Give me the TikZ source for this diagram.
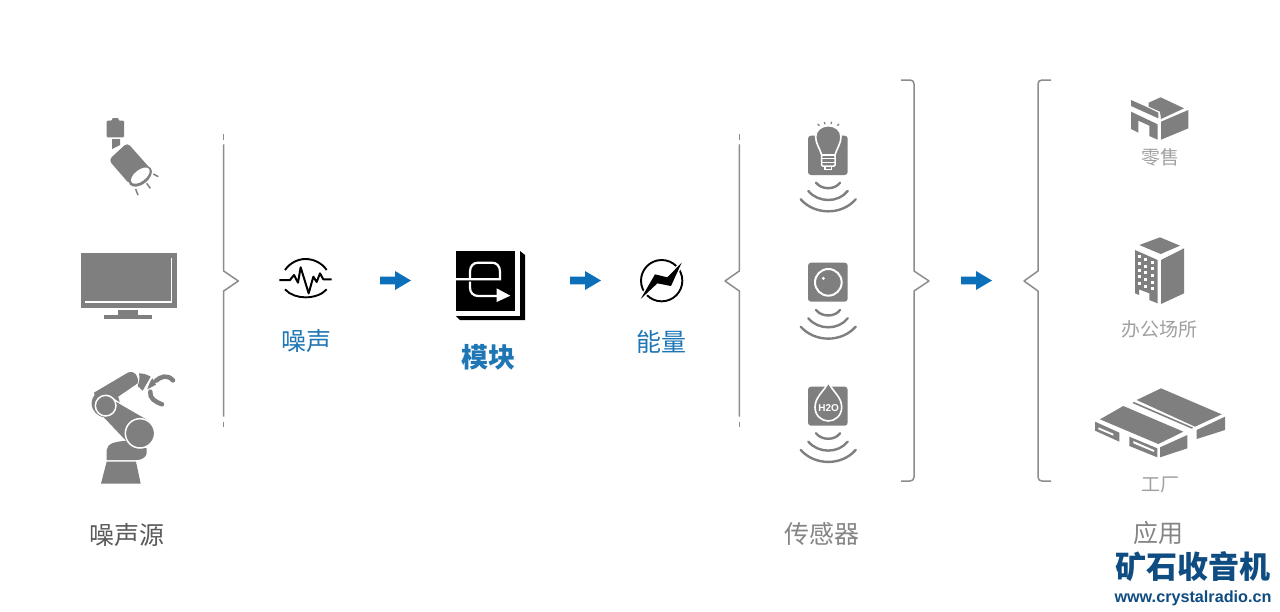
\documentclass[tikz,border=0pt]{standalone}
\usepackage{fontspec}
\setmainfont{Noto Sans CJK SC}
\newfontfamily\latinbold{Liberation Sans}
\definecolor{icongray}{HTML}{7F7F7F}
\definecolor{bracegray}{HTML}{8C8C8C}
\definecolor{flowblue}{HTML}{0B70B9}
\definecolor{labelblue}{HTML}{1F76B5}
\definecolor{markblue}{HTML}{0F4C81}
\definecolor{darklabel}{HTML}{5A5A5A}
\definecolor{midlabel}{HTML}{858585}
\definecolor{lightlabel}{HTML}{A0A0A0}
\tikzset{
  zoomed/.style={shift={(#1)},x=.33333pt,y=-.33333pt},
  icon/.style={fill=icongray,draw=none},
  wave/.style={draw=icongray,line width=2.4pt,line cap=round},
  bracket/.style={draw=bracegray,line width=1.5pt,line join=round},
  flowarrow/.style={fill=flowblue,draw=none},
  lbl/.style={inner sep=0pt,anchor=center},
  sizeA/.style={font=\fontsize{25}{25}\selectfont},
  sizeB/.style={font=\fontsize{19}{19}\selectfont}
}
\newcommand{\flowarr}[1]{%
  \fill[flowarrow,shift={(#1,280.5)}] (0,-3.8)--(15,-3.8)--(15,-9.5)--(31,0)--(15,9.5)--(15,3.8)--(0,3.8)--cycle;}
\newcommand{\waves}[1]{%
  \begin{scope}[zoomed={780,#1}]
    \draw[wave] (108,218) .. controls (125,240) and (165,240) .. (180,218);
    \draw[wave] (85,243) .. controls (115,279) and (175,279) .. (203,243);
    \draw[wave] (62,268) .. controls (105,316) and (185,316) .. (227,268);
  \end{scope}}
\begin{document}
\begin{tikzpicture}[x=1pt,y=-1pt]
\useasboundingbox (0,0) rectangle (1280,611);
\fill[white] (0,0) rectangle (1280,611);

% lamp
\begin{scope}[zoomed={70,100}]
  \fill[icon,rounded corners=1pt] (110,62)--(126,62)--(126,54)--(146,54)--(146,62)--(162,62)--(162,112)--(110,112)--cycle;
  \fill[icon] (126,117)--(150,117)--(150,135)--(126,147)--cycle;
  \fill[icon,rounded corners=4pt] (172,128)--(242,207)--(180,254)--(116,180)--cycle;
  \fill[icon] (211,229) circle[x radius=40,y radius=24,rotate=38];
  \fill[white] (211,227) circle[x radius=33,y radius=17,rotate=38];
  \draw[icongray,line width=1.5pt] (250,222)--(265,230) (230,250)--(241,265) (197,267)--(204,285);
\end{scope}

% television
\begin{scope}[zoomed={70,100}]
  \fill[icon] (33,459) rectangle (321,624);
  \draw[white,line width=1.5pt] (305,475)--(305,606)--(45,606);
  \fill[icon] (143,630) rectangle (205,646);
  \fill[icon] (102,645) rectangle (245,657);
\end{scope}

% robot
\begin{scope}[zoomed={70,350}]
  \fill[icon] (110,335)--(198,335)--(212,401)--(93,401)--cycle;
  \fill[icon] (110,330)--(110,300) .. controls (112,280) and (135,275) .. (170,272)--(230,295)--(230,310) .. controls (228,322) and (215,330) .. (200,330)--cycle;
  \fill[icon] (107,160) circle[radius=42];
  \fill[icon] (72,128)--(175,67) .. controls (192,60) and (208,78) .. (203,100)--(130,150)--(90,190)--cycle;
  \draw[white,line width=1.5pt] (130,147)--(205,200);
  \fill[icon] (130,151)--(239,214)--(181,286)--(95,195)--cycle;
  \fill[icon,draw=white,line width=1.5pt] (107,167) circle[radius=31];
  \fill[icon,draw=white,line width=1.5pt] (210,250) circle[radius=44];
  \fill[icon] (207,70) .. controls (220,70) and (232,74) .. (242,80)--(218,122)--(203,108) .. controls (208,95) and (210,82) .. (207,70)--cycle;
  \fill[icon] (247,85) .. controls (252,92) and (256,98) .. (258,104)--(232,118) .. controls (236,105) and (240,95) .. (247,85)--cycle;
  \draw[icongray,line width=4.5pt,line cap=round] (258,92) .. controls (272,80) and (292,72) .. (309,91);
  \draw[icongray,line width=4.5pt,line cap=round] (241,125) .. controls (238,145) and (255,155) .. (276,163);
\end{scope}

% left brace
\draw[bracket] (223.7,134)--(223.7,140);
\draw[bracket] (223.7,144.3)--(223.7,271)--(238.3,281)--(223.7,291)--(223.7,416.7);
\draw[bracket] (223.7,421.7)--(223.7,427);

% noise icon
\begin{scope}[zoomed={270,240}]
  \draw[black,line width=1.9pt] (45,90) .. controls (60,68) and (85,57) .. (106,57) .. controls (130,57) and (155,68) .. (170,90);
  \draw[black,line width=1.9pt] (45,148) .. controls (60,165) and (85,172) .. (106,172) .. controls (130,172) and (155,165) .. (170,148);
  \draw[black,line width=2pt,line join=round] (28,120)--(60,120)--(72,105)--(84,128)--(92,82)--(116,160)--(130,110)--(140,126)--(150,100)--(160,118)--(185,118);
\end{scope}

\flowarr{380}

% module icon
\begin{scope}[zoomed={270,240}]
  \fill[black] (558,33) rectangle (736,212);
  \fill[black] (750,33)--(765,45)--(765,240)--(570,240)--(558,228)--(750,228)--cycle;
  \draw[white,line width=2.2pt] (558,118)--(690,118)--(690,95) .. controls (690,78) and (680,68) .. (665,68)--(625,68) .. controls (610,68) and (600,78) .. (600,95)--(600,118);
  \draw[white,line width=2.2pt] (600,125)--(600,143) .. controls (600,158) and (610,168) .. (625,168)--(685,168);
  \fill[white] (680,145)--(721,167)--(680,186)--cycle;
\end{scope}

\flowarr{570}

% energy icon
\begin{scope}[zoomed={560,240}]
  \draw[black,line width=1.9pt] (305,122) circle[radius=62];
  \draw[white,line width=3pt,fill=white,line join=miter] (365,68)--(333,138)--(292,130)--(242,177)--(285,103)--(322,112)--cycle;
  \fill[black] (365,68)--(333,138)--(292,130)--(242,177)--(285,103)--(322,112)--cycle;
\end{scope}

% second brace
\draw[bracket] (739.3,134)--(739.3,140);
\draw[bracket] (739.3,144.3)--(739.3,271)--(725,281)--(739.3,291)--(739.3,416.7);
\draw[bracket] (739.3,421.7)--(739.3,427);

% bulb sensor
\begin{scope}[zoomed={780,110}]
  \fill[icon,rounded corners=3pt] (84,77) rectangle (203,195);
  \draw[icon,draw=white,line width=1.6pt] (125,135) .. controls (118,112) and (107,100) .. (107,80) .. controls (107,60) and (125,47) .. (145,47) .. controls (165,47) and (183,60) .. (183,80) .. controls (183,100) and (172,112) .. (165,135)--cycle;
  \draw[white,line width=1.5pt,fill=icongray,rounded corners=1pt] (125,135) rectangle (165,168);
  \draw[white,line width=1.5pt] (125,146)--(165,146) (125,157)--(165,157) (135,168)--(135,178)--(155,178)--(155,168);
  \draw[icongray,line width=1.2pt] (113,42)--(118,47) (133,36)--(135,43) (155,35)--(153,42) (177,42)--(172,47);
\end{scope}
\waves{110}

% camera sensor
\begin{scope}[zoomed={780,110}]
  \fill[icon,rounded corners=3pt] (84,458) rectangle (203,575);
  \draw[white,line width=2pt] (145,517) circle[radius=40];
  \fill[white] (130,505) circle[radius=5];
\end{scope}
\waves{237.3}

% water sensor
\begin{scope}[zoomed={780,370}]
  \fill[icon,rounded corners=3pt] (84,50) rectangle (203,167);
  \draw[icon,draw=white,line width=1.6pt] (145,37) .. controls (132,65) and (105,80) .. (105,112) .. controls (105,137) and (125,153) .. (145,153) .. controls (165,153) and (185,137) .. (185,112) .. controls (185,80) and (158,65) .. (145,37)--cycle;
  \node[lbl,text=white] (h2o) at (146,113) {\latinbold\fontsize{10}{10}\selectfont\bfseries H2O};
\end{scope}
\waves{360.6}

% third brace
\draw[bracket] (901,80)--(910,80) .. controls (912.5,80) and (914,81.5) .. (914,84)--(914,271)--(929,281)--(914,291)--(914,477) .. controls (914,479.5) and (912.5,481) .. (910,481)--(901,481);

\flowarr{961}

% fourth brace
\draw[bracket] (1051,80)--(1042,80) .. controls (1039.5,80) and (1038,81.5) .. (1038,84)--(1038,271)--(1024,281)--(1038,291)--(1038,477) .. controls (1038,479.5) and (1039.5,481) .. (1042,481)--(1051,481);

% retail icon
\begin{scope}[zoomed={1090,80}]
  \fill[icon] (176,68)--(212,52)--(282,85)--(213,117)--(210,95)--(176,80)--cycle;
  \fill[icon] (123,60)--(168,80)--(205,98)--(205,115)--(123,78)--cycle;
  \fill[icon] (123,95)--(203,133)--(203,179)--(178,168)--(178,137)--(145,122)--(145,158)--(123,147)--cycle;
  \fill[icon] (213,125)--(295,90)--(295,145)--(213,179)--cycle;
\end{scope}

% office icon
\begin{scope}[zoomed={1090,80}]
  \fill[icon] (148,495)--(210,472)--(270,497)--(212,522)--cycle;
  \fill[icon] (135,510)--(203,540)--(203,670)--(178,660)--(178,640)--(147,628)--(147,645)--(135,640)--cycle;
  \fill[icon] (213,540)--(282,505)--(282,640)--(213,672)--cycle;
  \foreach \c in {0,1,2}{\foreach \r in {0,1,2,3,4}{
    \fill[white] ({144+19*\c},{526+8*\c+20*\r}) rectangle ++(9,9);
  }}
\end{scope}

% factory icon
\begin{scope}[zoomed={1080,370}]
  \fill[icon] (170,90)--(243,55)--(425,133)--(345,170)--cycle;
  \fill[icon] (60,148)--(130,108)--(310,185)--(235,222)--cycle;
  \fill[icon] (157,99)--(162,96)--(340,173)--(335,176)--cycle;
  \fill[icon] (350,180)--(435,140)--(435,180)--(350,207)--cycle;
  \fill[icon] (240,232)--(322,195)--(322,235)--(240,262)--cycle;
  \fill[icon] (45,155)--(118,188)--(118,215)--(45,182)--cycle;
  \fill[icon] (148,200)--(232,235)--(232,262)--(148,228)--cycle;
  \fill[white] (55,172)--(100,191)--(100,197)--(55,178)--cycle;
  \fill[white] (160,213)--(222,240)--(222,246)--(160,220)--cycle;
\end{scope}

% labels
\node[lbl,sizeA,text=darklabel] (sources) at (127,535) {噪声源};
\node[lbl,sizeA,text=labelblue] (noise) at (306,341) {噪声};
\node[lbl,font=\fontsize{27}{27}\selectfont\bfseries,text=labelblue] (module) at (488,357) {模块};
\node[lbl,sizeA,text=labelblue] (energy) at (661.5,342) {能量};
\node[lbl,sizeA,text=midlabel] (sensors) at (822,534) {传感器};
\node[lbl,sizeB,text=lightlabel] (retail) at (1160,157) {零售};
\node[lbl,sizeB,text=lightlabel] (office) at (1159.5,329) {办公场所};
\node[lbl,sizeB,text=lightlabel] (factory) at (1160.5,485) {工厂};
\node[lbl,sizeA,text=midlabel] (apps) at (1158.5,533) {应用};
\node[lbl,font=\fontsize{31}{31}\selectfont\bfseries,text=markblue] (mark) at (1192.5,567) {矿石收音机};
\node[lbl,font=\latinbold\fontsize{16.2}{16.2}\selectfont\bfseries,text=markblue] (url) at (1193,598) {www.crystalradio.cn};
\end{tikzpicture}
\end{document}
